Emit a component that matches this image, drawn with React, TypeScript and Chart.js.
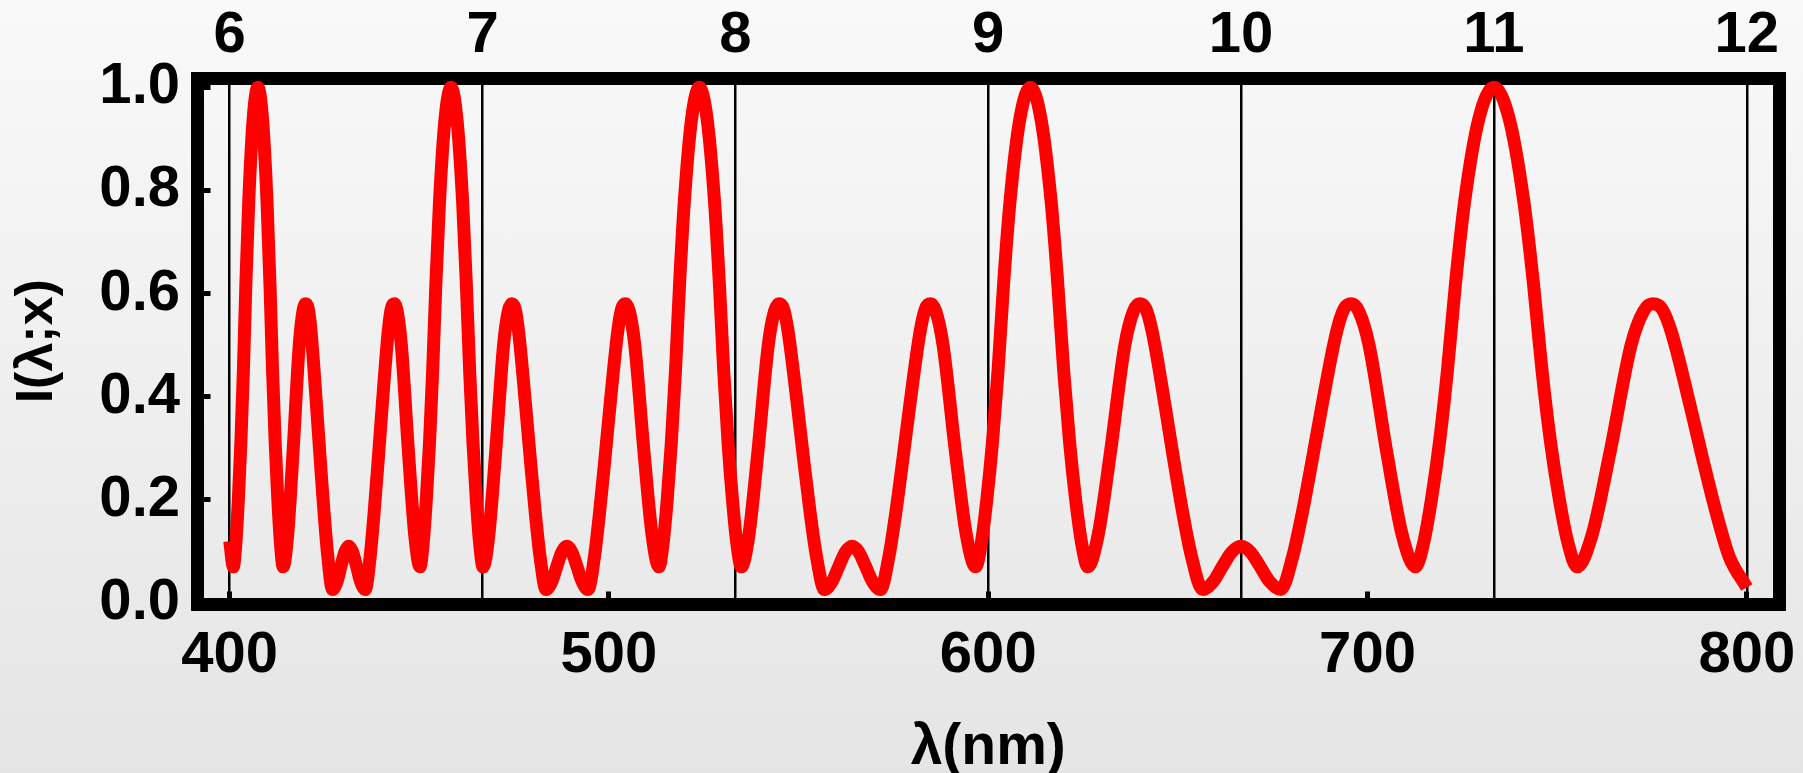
import React, { useEffect, useRef } from 'react';
import { Chart, registerables } from 'chart.js';

Chart.register(...registerables);

// Wavelength samples (nm) (one line per stretch between main peaks)
const wavelengthNm = [
  400.0, 400.95, 401.6, 402.27, 402.93, 403.6, 404.26, 405.02, 406.19, 407.41,
  408.63, 409.82, 410.6, 411.29, 411.99, 412.68, 413.38, 414.08, 415.25, 416.67, 418.33, 419.29, 420.01, 420.73, 421.46, 422.91, 423.89, 424.87, 425.86, 427.1, 428.35, 429.35, 430.36, 431.37,
  432.39, 433.41, 434.44, 435.73, 437.03, 438.07, 439.12, 440.18, 441.77, 442.57, 443.37, 444.18, 445.25, 447.15, 448.8, 450.17, 451.0, 451.83, 452.67, 453.51, 454.36, 455.32, 456.79, 458.33,
  459.89, 461.39, 462.38, 463.26, 464.14, 465.02, 465.9, 466.79, 468.28, 470.09, 472.2, 473.42, 474.34, 475.26, 476.19, 478.05, 479.3, 480.56, 481.82, 483.41, 485.01, 486.3, 487.59, 488.89,
  490.2, 491.51, 492.83, 494.49, 496.17, 497.51, 498.87, 500.23, 502.28, 503.32, 504.36, 505.4, 506.8, 509.26, 511.39, 513.18, 514.26, 515.35, 516.43, 517.53, 518.62, 519.88, 521.8, 523.81,
  525.84, 527.81, 529.1, 530.25, 531.4, 532.56, 533.72, 534.89, 536.85, 539.22, 542.0, 543.61, 544.82, 546.04, 547.26, 549.73, 551.38, 553.04, 554.71, 556.82, 558.94, 560.65, 562.37, 564.1,
  565.84, 567.6, 569.36, 571.58, 573.81, 575.62, 577.43, 579.25, 582.01, 583.4, 584.8, 586.2, 588.08, 591.4, 594.27, 596.69, 598.15, 599.62, 601.09, 602.58, 604.06, 605.76, 608.37, 611.11,
  613.87, 616.56, 618.32, 619.89, 621.47, 623.05, 624.64, 626.25, 628.93, 632.18, 636.02, 638.24, 639.91, 641.59, 643.27, 646.68, 648.97, 651.28, 653.6, 656.52, 659.47, 661.85, 664.25, 666.67,
  669.1, 671.55, 674.02, 677.13, 680.27, 682.81, 685.36, 687.93, 691.82, 693.79, 695.76, 697.75, 700.41, 705.13, 709.22, 712.67, 714.75, 716.85, 718.95, 721.07, 723.21, 725.64, 729.4, 733.33,
  737.32, 741.19, 743.75, 746.02, 748.3, 750.6, 752.91, 755.24, 759.14, 763.89, 769.5, 772.74, 775.19, 777.66, 780.14, 785.15, 788.53, 791.94, 795.37, 800.0,
];

// Normalised intensity I(λ;x) at those wavelengths
const intensity = [
  0.12, 0.07, 0.115, 0.2, 0.31, 0.45, 0.62, 0.78, 0.94, 1.0,
  0.94, 0.78, 0.62, 0.45, 0.31, 0.2, 0.115, 0.07, 0.13, 0.29, 0.5, 0.565, 0.58, 0.57, 0.525, 0.38, 0.275, 0.175, 0.09, 0.026, 0.043, 0.072, 0.099, 0.11,
  0.099, 0.072, 0.043, 0.026, 0.09, 0.175, 0.275, 0.38, 0.525, 0.57, 0.58, 0.565, 0.5, 0.29, 0.13, 0.07, 0.115, 0.2, 0.31, 0.45, 0.62, 0.78, 0.94, 1.0,
  0.94, 0.78, 0.62, 0.45, 0.31, 0.2, 0.115, 0.07, 0.13, 0.29, 0.5, 0.565, 0.58, 0.57, 0.525, 0.38, 0.275, 0.175, 0.09, 0.026, 0.043, 0.072, 0.099, 0.11,
  0.099, 0.072, 0.043, 0.026, 0.09, 0.175, 0.275, 0.38, 0.525, 0.57, 0.58, 0.565, 0.5, 0.29, 0.13, 0.07, 0.115, 0.2, 0.31, 0.45, 0.62, 0.78, 0.94, 1.0,
  0.94, 0.78, 0.62, 0.45, 0.31, 0.2, 0.115, 0.07, 0.13, 0.29, 0.5, 0.565, 0.58, 0.57, 0.525, 0.38, 0.275, 0.175, 0.09, 0.026, 0.043, 0.072, 0.099, 0.11,
  0.099, 0.072, 0.043, 0.026, 0.09, 0.175, 0.275, 0.38, 0.525, 0.57, 0.58, 0.565, 0.5, 0.29, 0.13, 0.07, 0.115, 0.2, 0.31, 0.45, 0.62, 0.78, 0.94, 1.0,
  0.94, 0.78, 0.62, 0.45, 0.31, 0.2, 0.115, 0.07, 0.13, 0.29, 0.5, 0.565, 0.58, 0.57, 0.525, 0.38, 0.275, 0.175, 0.09, 0.026, 0.043, 0.072, 0.099, 0.11,
  0.099, 0.072, 0.043, 0.026, 0.09, 0.175, 0.275, 0.38, 0.525, 0.57, 0.58, 0.565, 0.5, 0.29, 0.13, 0.07, 0.115, 0.2, 0.31, 0.45, 0.62, 0.78, 0.94, 1.0,
  0.94, 0.78, 0.62, 0.45, 0.31, 0.2, 0.115, 0.07, 0.13, 0.29, 0.5, 0.565, 0.58, 0.57, 0.525, 0.38, 0.275, 0.175, 0.09, 0.03,
];

const bottomTicks = [400, 500, 600, 700, 800];
const topTicks = [6, 7, 8, 9, 10, 11, 12];
const yTicks = [0, 0.2, 0.4, 0.6, 0.8, 1.0];
const yTickLabels = ['0.0', '0.2', '0.4', '0.6', '0.8', '1.0'];

const FONT = '"Liberation Sans", Arial, Helvetica, sans-serif';

export default function App() {
  const ref = useRef<HTMLCanvasElement>(null);

  useEffect(() => {
    const canvas = ref.current;
    if (!canvas) return;
    const tickFont = { family: FONT, size: 58, weight: 'bold' as const };
    const zeroPad = (s: any) => {
      s.paddingLeft = 0;
      s.paddingRight = 0;
      s.paddingTop = 0;
      s.paddingBottom = 0;
    };

    const chart = new Chart(canvas, {
      type: 'line',
      data: {
        datasets: [
          {
            data: wavelengthNm.map((x, i) => ({ x, y: intensity[i] })),
            borderColor: '#ff0000',
            borderWidth: 13,
            pointRadius: 0,
            cubicInterpolationMode: 'monotone',
            borderCapStyle: 'butt',
            borderJoinStyle: 'round',
            fill: false,
            xAxisID: 'x',
            yAxisID: 'y',
          },
        ],
      },
      options: {
        responsive: false,
        maintainAspectRatio: false,
        animation: false,
        events: [],
        layout: { padding: 0, autoPadding: false },
        plugins: { legend: { display: false }, tooltip: { enabled: false } },
        scales: {
          x: {
            type: 'linear',
            position: 'bottom',
            min: 391.5,
            max: 808.5,
            afterBuildTicks: (s: any) => {
              s.ticks = bottomTicks.map((v) => ({ value: v }));
            },
            afterFit: (s: any) => {
              s.height = 168.5;
              zeroPad(s);
            },
            grid: {
              display: true,
              drawOnChartArea: false,
              drawTicks: true,
              tickLength: -13,
              tickWidth: 5,
              tickColor: '#000',
              lineWidth: 13,
              color: '#000',
            },
            border: { display: true, color: '#000', width: 13 },
            ticks: {
              color: '#000',
              font: tickFont,
              padding: 29.7,
              maxRotation: 0,
              autoSkip: false,
              callback: (v: any) => String(v),
            },
            title: {
              display: true,
              text: 'λ(nm)',
              color: '#000',
              font: { family: FONT, size: 57, weight: 'bold', lineHeight: 1 },
              padding: { top: 0, bottom: -3.75 },
            },
          },
          x2: {
            type: 'linear',
            position: 'top',
            min: 5.8725,
            max: 12.1275,
            z: 1,
            afterBuildTicks: (s: any) => {
              s.ticks = topTicks.map((v) => ({ value: v }));
            },
            afterFit: (s: any) => {
              s.height = 78;
              zeroPad(s);
            },
            grid: {
              display: true,
              drawOnChartArea: true,
              drawTicks: false,
              color: '#000',
              lineWidth: 2.5,
            },
            border: { display: true, color: '#000', width: 13 },
            ticks: {
              color: '#000',
              font: tickFont,
              padding: 7.2,
              maxRotation: 0,
              autoSkip: false,
              callback: (v: any) => String(v),
            },
          },
          y: {
            type: 'linear',
            position: 'left',
            min: -0.003,
            max: 1.018,
            afterBuildTicks: (s: any) => {
              s.ticks = yTicks.map((v) => ({ value: v }));
            },
            afterFit: (s: any) => {
              s.width = 197.5;
              zeroPad(s);
            },
            grid: {
              display: true,
              drawOnChartArea: false,
              drawTicks: true,
              tickLength: -13,
              tickWidth: 5,
              tickColor: '#000',
              lineWidth: 13,
              color: '#000',
            },
            border: { display: true, color: '#000', width: 13 },
            ticks: {
              color: '#000',
              font: tickFont,
              padding: 30.5,
              autoSkip: false,
              callback: (v: any) => {
                const i = yTicks.findIndex((t) => Math.abs(t - Number(v)) < 1e-9);
                return i >= 0 ? yTickLabels[i] : '';
              },
            },
            title: {
              display: true,
              text: 'I(λ;x)',
              color: '#000',
              font: { family: FONT, size: 52, weight: 'bold', lineHeight: 1 },
              padding: { top: 11.5, bottom: 0 },
            },
          },
          y2: {
            type: 'linear',
            position: 'right',
            min: -0.003,
            max: 1.018,
            afterFit: (s: any) => {
              s.width = 24;
              zeroPad(s);
            },
            grid: { display: false, lineWidth: 13 },
            border: { display: true, color: '#000', width: 13 },
            ticks: { display: false },
          },
        },
      },
    } as any);

    return () => chart.destroy();
  }, []);

  return (
    <div
      style={{
        position: 'absolute',
        left: 0,
        top: 0,
        width: 1803,
        height: 773,
        overflow: 'hidden',
        background: 'linear-gradient(to bottom, #f9f9f9 0%, #e5e5e5 100%)',
      }}
    >
      <canvas ref={ref} width={1803} height={773} style={{ display: 'block' }} />
    </div>
  );
}
